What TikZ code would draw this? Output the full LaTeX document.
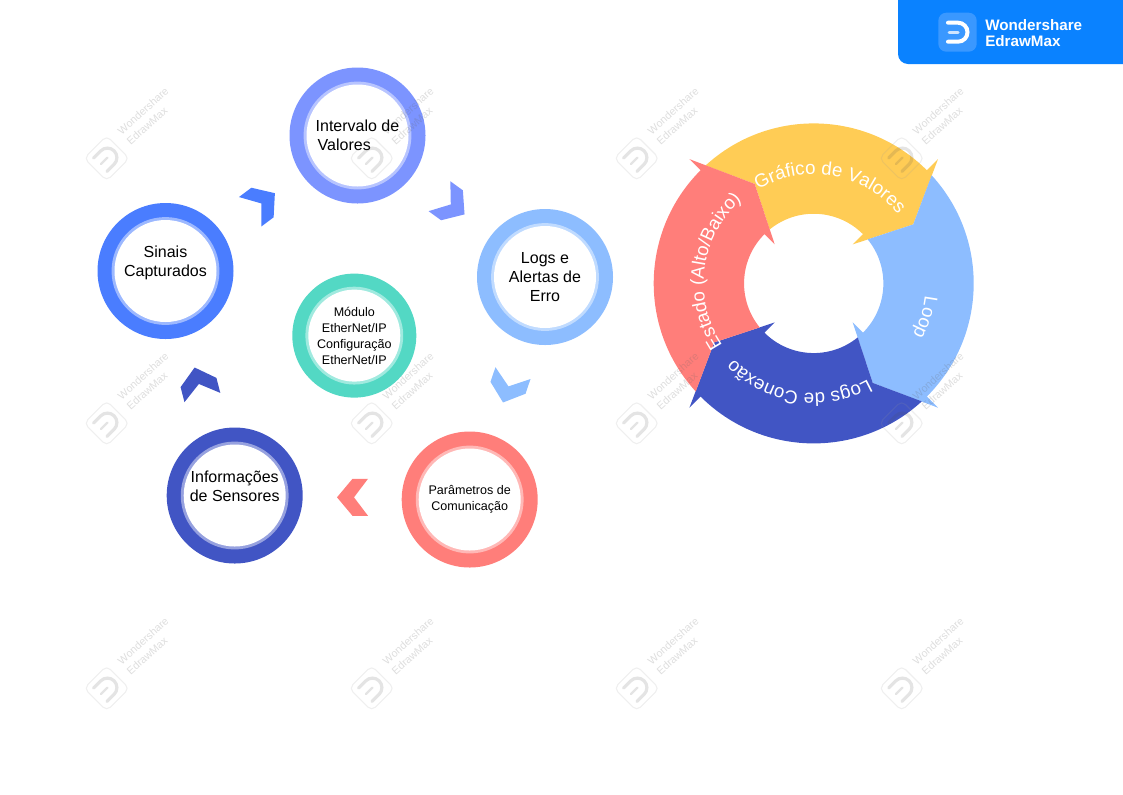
\documentclass[tikz,border=0pt]{standalone}
\usepackage{fontspec}
\setmainfont{Liberation Sans}
\usetikzlibrary{decorations.text}

\definecolor{ringblue}{HTML}{4A7DFF}
\definecolor{ringviolet}{HTML}{7C94FF}
\definecolor{ringsky}{HTML}{8DBDFF}
\definecolor{ringred}{HTML}{FF7E7A}
\definecolor{ringnavy}{HTML}{4155C4}
\definecolor{ringteal}{HTML}{53D8C4}
\definecolor{ringgold}{HTML}{FFCC55}
\definecolor{brandblue}{HTML}{0A82FF}
\definecolor{brandicon}{HTML}{3A98FF}

\newcommand{\ringfont}{\fontsize{14}{14}\selectfont\color{white}}
% text on the big ring: centre angle, baseline radius, text
\newcommand{\ringtext}[3]{\path[decorate,decoration={text along path,text align=center,text={|\ringfont|#3}}]
  (#1+45:#2) arc[start angle=#1+45,end angle=#1-45,radius=#2*0.75pt];}

\tikzset{
  ringnode/.style n args={3}{circle,fill=#1,minimum size=#2,inner sep=0pt,align=center,text=black,
    path picture={
      \fill[#1!55!white] (path picture bounding box.center) circle (#3+2.2pt);
      \fill[white] (path picture bounding box.center) circle (#3);}},
  labelbig/.style={font=\fontsize{12}{14.25}\selectfont},
  labelsmall/.style={font=\fontsize{9.4}{12}\selectfont},
  pics/chev/.style={code={
    \fill[#1] (15.5,0) -- (0,18.5) -- (-15.5,18.5) -- (-1.5,0) -- (-15.5,-18.5) -- (0,-18.5) -- cycle;}},
  pics/ringarrow/.style={code={
    \fill[#1] (132.5:160) arc[start angle=132.5,end angle=45,radius=120pt] -- (124.3,124.3) -- (99.5,59)
      -- (39,39) -- (45:69.65) arc[start angle=45,end angle=129.2,radius=52.24pt] -- (-59,99.5) -- cycle;}},
  pics/dlogo/.style n args={3}{code={
    \draw[#1,line width=#3,line cap=round] (-9,-9.5) -- (1,-9.5) arc[start angle=90,end angle=-90,radius=7.125pt] -- (-9,9.5);
    \draw[#2,line width=#3*0.75,line cap=round] (-8,0) -- (1,0);}},
  brandtext/.style={text=white,anchor=west,inner sep=0pt,font=\fontsize{11.4}{12}\selectfont\bfseries},
}

\begin{document}
\begin{tikzpicture}[x=0.75pt,y=-0.75pt]
  \useasboundingbox (0,0) rectangle (1123,794);

  % circles
  \node[ringnode={ringviolet}{102pt}{38.25pt},labelbig,align=left] (intervalo) at (357.5,135.5) {Intervalo de\\\hspace*{1.5pt}Valores};
  \node[ringnode={ringblue}{102pt}{38.25pt},labelbig] (sinais) at (165.5,271) {Sinais\\Capturados\\\mbox{}};
  \node[ringnode={ringsky}{102pt}{38.25pt},labelbig] (logs) at (545,277) {Logs e\\Alertas de\\Erro};
  \node[ringnode={ringred}{102pt}{38.25pt},labelsmall] (parametros) at (469.7,499.5) {Parâmetros de\\Comunicação};
  \node[ringnode={ringnavy}{102pt}{38.25pt},labelbig] (informacoes) at (234.7,495.5) {Informações\\de Sensores\\\mbox{}};
  \node[ringnode={ringteal}{93pt}{34.5pt},labelsmall] (modulo) at (354.3,335.6) {Módulo\\EtherNet/IP\\Configuração\\EtherNet/IP};

  % chevrons between the circles
  \pic[rotate=37] (chevup) at (262.5,202.5) {chev=ringblue};
  \pic[rotate=-36] (chevright) at (452,205.3) {chev=ringviolet};
  \pic[rotate=-108.7] (chevdown) at (508,387.8) {chev=ringsky};
  \pic[rotate=180] (chevleft) at (352.5,497.3) {chev=ringred};
  \pic[rotate=104.5] (chevback) at (198.5,382.5) {chev=ringnavy};

  % big ring of arrows
  \begin{scope}[shift={(813.7,283.4)},y=0.75pt]
    \pic (arrowgold) {ringarrow=ringgold};
    \pic[rotate=-90] (arrowsky) {ringarrow=ringsky};
    \pic[rotate=180] (arrownavy) {ringarrow=ringnavy};
    \pic[rotate=90] (arrowred) {ringarrow=ringred};
    \ringtext{80}{109}{Gráfico de Valores}
    \ringtext{172.5}{110}{Estado (Alto/Baixo)}
    \ringtext{-17}{112}{Loop}
    \ringtext{-98.5}{110}{Logs de Conexão}
  \end{scope}

  % brand banner
  \fill[brandblue] (1123,0) -- (898,0) [rounded corners=7.5pt] -- (898,64) [sharp corners] -- (1123,64) -- cycle;
  \fill[brandicon,rounded corners=6pt] (938.3,12.7) rectangle (976.7,51.7);
  \pic (brandlogo) at (957,32.2) {dlogo={white}{white!75!brandicon}{3pt}};
  \node[brandtext] (brandtop) at (985,25.5) {Wondershare};
  \node[brandtext] (brandbottom) at (985,41.5) {EdrawMax};

  % watermarks
  \foreach \wx in {106.7,371.7,636.7,901.7}
    \foreach \wy in {158.3,423.3,688.3} {
      \begin{scope}[shift={(\wx,\wy)}]
        \draw[black!40,opacity=0.16,line width=0.8pt,rounded corners=4pt] (-22.6,0) -- (0,-22.6) -- (22.6,0) -- (0,22.6) -- cycle;
        \begin{scope}[opacity=0.15]
          \pic[rotate=45] {dlogo={black!70}{black!70}{2.4pt}};
        \end{scope}
        \node[rotate=42,align=left,text=black!60,opacity=0.22,inner sep=0pt,font=\fontsize{8}{10}\selectfont] (wmark) at (40.9,-42.2) {Wondershare\\EdrawMax};
      \end{scope}
    }
\end{tikzpicture}
\end{document}
